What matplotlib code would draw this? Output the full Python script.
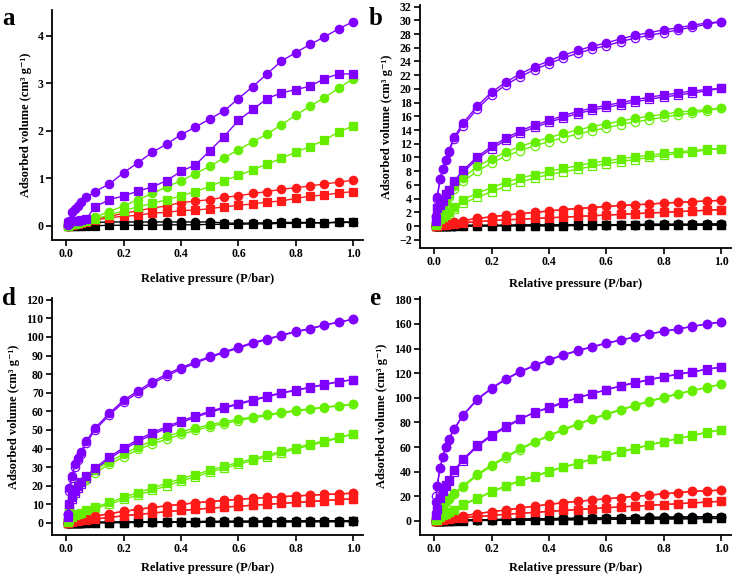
import matplotlib
matplotlib.use("Agg")
import matplotlib.pyplot as plt
import numpy as np

plt.rcParams['font.family'] = ['Liberation Serif', 'DejaVu Serif']
plt.rcParams['font.weight'] = 'bold'

# Relative pressure points (P/bar)
P = [0.005, 0.01, 0.02, 0.03, 0.04, 0.05, 0.07, 0.10, 0.15, 0.20, 0.25, 0.30, 0.35,
     0.40, 0.45, 0.50, 0.55, 0.60, 0.65, 0.70, 0.75, 0.80, 0.85, 0.90, 0.95, 1.00]

# Panel a
A_PUR_C = [0.02, 0.10, 0.28, 0.35, 0.42, 0.50, 0.60, 0.72, 0.88, 1.12, 1.33, 1.55, 1.72,
           1.92, 2.08, 2.25, 2.42, 2.68, 2.93, 3.20, 3.47, 3.65, 3.82, 3.98, 4.15, 4.30]
A_PUR_S = [0.05, 0.08, 0.10, 0.10, 0.11, 0.12, 0.15, 0.40, 0.55, 0.63, 0.73, 0.82, 0.95,
           1.15, 1.28, 1.58, 1.88, 2.22, 2.45, 2.68, 2.80, 2.87, 2.94, 3.10, 3.20, 3.20]
A_GRN_C = [0.00, 0.02, 0.04, 0.06, 0.08, 0.10, 0.13, 0.18, 0.30, 0.42, 0.55, 0.68, 0.82,
           0.95, 1.10, 1.25, 1.43, 1.60, 1.77, 1.93, 2.13, 2.33, 2.52, 2.70, 2.90, 3.10]
A_GRN_S = [0.00, 0.01, 0.03, 0.04, 0.06, 0.07, 0.10, 0.15, 0.22, 0.32, 0.40, 0.47, 0.55,
           0.63, 0.72, 0.83, 0.95, 1.06, 1.18, 1.30, 1.42, 1.55, 1.67, 1.80, 1.98, 2.10]
A_RED_C = [0.00, 0.01, 0.03, 0.04, 0.05, 0.07, 0.10, 0.15, 0.20, 0.26, 0.32, 0.37, 0.42,
           0.49, 0.52, 0.55, 0.60, 0.63, 0.68, 0.72, 0.77, 0.80, 0.84, 0.88, 0.92, 0.96]
A_RED_S = [0.00, 0.01, 0.02, 0.03, 0.04, 0.05, 0.08, 0.12, 0.17, 0.20, 0.22, 0.27, 0.28,
           0.32, 0.33, 0.36, 0.40, 0.43, 0.46, 0.50, 0.52, 0.58, 0.62, 0.65, 0.69, 0.72]
A_BLK_C = [0.00, 0.01, 0.02, 0.03, 0.04, 0.05, 0.06, 0.07, 0.08, 0.08, 0.08, 0.08, 0.08,
           0.08, 0.08, 0.08, 0.06, 0.05, 0.06, 0.06, 0.07, 0.07, 0.07, 0.06, 0.08, 0.08]
A_BLK_S = [0.00, 0.00, 0.00, 0.00, 0.00, 0.00, 0.00, 0.00, 0.01, 0.01, 0.01, 0.01, 0.02,
           0.02, 0.02, 0.03, 0.03, 0.03, 0.04, 0.04, 0.05, 0.05, 0.06, 0.06, 0.07, 0.07]

# Panel b (adsorption / desorption)
B_PUR_C_ADS = [1.5, 4.2, 6.8, 8.3, 9.7, 11.0, 13.0, 15.0, 17.5, 19.5, 21.0, 22.2, 23.2,
               24.1, 24.9, 25.6, 26.2, 26.7, 27.3, 27.8, 28.2, 28.6, 28.9, 29.3, 29.6, 29.8]
B_PUR_C_DES = [1.5, 4.0, 6.8, 8.3, 9.7, 10.8, 12.7, 14.6, 17.1, 19.1, 20.6, 21.8, 22.8,
               23.7, 24.5, 25.2, 25.8, 26.3, 26.9, 27.4, 27.8, 28.2, 28.6, 29.0, 29.4, 29.8]
B_PUR_S_ADS = [0.8, 2.6, 3.0, 3.7, 4.7, 5.3, 6.6, 8.1, 10.1, 11.6, 12.8, 13.9, 14.7,
               15.4, 16.1, 16.7, 17.2, 17.6, 18.0, 18.4, 18.8, 19.1, 19.4, 19.7, 19.9, 20.1]
B_PUR_S_DES = [0.8, 2.6, 3.0, 3.7, 4.6, 5.2, 6.4, 7.8, 9.8, 11.3, 12.5, 13.6, 14.4,
               15.1, 15.8, 16.4, 16.9, 17.3, 17.7, 18.1, 18.5, 18.8, 19.1, 19.4, 19.7, 20.1]
B_GRN_C_ADS = [0.3, 0.8, 1.5, 2.5, 3.5, 4.5, 5.8, 7.0, 8.7, 9.8, 10.8, 11.6, 12.3,
               12.9, 13.5, 14.0, 14.5, 14.9, 15.3, 15.7, 16.0, 16.3, 16.6, 16.8, 17.0, 17.2]
B_GRN_C_DES = [0.3, 0.8, 1.4, 2.3, 3.2, 4.2, 5.4, 6.5, 8.0, 9.2, 10.2, 11.0, 11.7,
               12.3, 12.9, 13.4, 13.9, 14.3, 14.8, 15.2, 15.5, 15.9, 16.2, 16.5, 16.8, 17.2]
B_GRN_S_ADS = [0.2, 0.5, 1.0, 1.3, 1.6, 2.0, 2.8, 3.8, 4.8, 5.6, 6.4, 7.0, 7.5,
               8.0, 8.4, 8.8, 9.2, 9.5, 9.8, 10.1, 10.3, 10.6, 10.8, 11.0, 11.2, 11.3]
B_GRN_S_DES = [0.2, 0.5, 0.9, 1.2, 1.5, 1.8, 2.5, 3.3, 4.2, 5.0, 5.8, 6.4, 7.0,
               7.5, 7.9, 8.3, 8.7, 9.1, 9.4, 9.7, 10.0, 10.3, 10.6, 10.8, 11.1, 11.3]
B_RED_C = [0.0, 0.1, 0.2, 0.3, 0.4, 0.5, 0.6, 0.8, 1.1, 1.35, 1.6, 1.8, 2.0,
           2.2, 2.4, 2.55, 2.7, 2.85, 3.0, 3.1, 3.2, 3.35, 3.45, 3.55, 3.65, 3.75]
B_RED_S = [0.0, 0.05, 0.1, 0.15, 0.2, 0.25, 0.35, 0.5, 0.6, 0.8, 0.9, 1.0, 1.1,
           1.2, 1.3, 1.4, 1.5, 1.6, 1.7, 1.8, 1.9, 2.0, 2.1, 2.2, 2.3, 2.4]
B_BLK_C = [0.0, 0.0, 0.0, 0.0, 0.05, 0.05, 0.05, 0.1, 0.1, 0.1, 0.1, 0.15, 0.15,
           0.15, 0.2, 0.2, 0.2, 0.2, 0.2, 0.2, 0.25, 0.25, 0.25, 0.25, 0.3, 0.3]
B_BLK_S = [0.0, 0.0, 0.0, 0.0, 0.0, 0.0, 0.0, 0.0, 0.0, 0.05, 0.05, 0.05, 0.05,
           0.05, 0.05, 0.1, 0.1, 0.1, 0.1, 0.1, 0.1, 0.1, 0.15, 0.15, 0.15, 0.15]

# Panel d
D_PUR_C_ADS = [5, 19, 25, 31.5, 35, 38, 44, 51, 59, 66, 71, 76, 80,
               83.5, 86.5, 89.5, 92, 94.5, 97, 99, 101, 103, 104.5, 106.5, 108, 109.5]
D_PUR_C_DES = [5, 17, 24, 30, 34, 37, 43, 50, 58, 65, 70, 75, 79,
               82.7, 85.8, 89, 91.5, 94, 96.5, 98.6, 100.7, 102.7, 104.3, 106.3, 107.9, 109.5]
D_PUR_S_ADS = [3, 10, 14, 17, 20, 22, 25, 29.5, 35.5, 40.5, 44.8, 48.5, 51.8,
               54.8, 57.5, 60, 62.2, 64.2, 66.2, 68.2, 70, 71.5, 73, 74.5, 76, 77]
D_PUR_S_DES = [3, 9, 13, 16, 19, 21, 24, 28.5, 34.5, 39.5, 43.8, 47.5, 50.9,
               54, 56.8, 59.4, 61.7, 63.8, 65.8, 67.8, 69.7, 71.2, 72.8, 74.3, 75.9, 77]
D_GRN_C_ADS = [2, 8, 14, 18, 20.5, 22, 24, 28.5, 33, 37, 41, 44, 46.5,
               49, 51, 52.8, 54.3, 55.8, 57, 58.3, 59.4, 60.5, 61.4, 62.3, 63.1, 63.8]
D_GRN_C_DES = [2, 7, 13, 17, 19.5, 21, 23, 27, 31.5, 35.5, 39.5, 42.5, 45,
               47.6, 49.8, 51.8, 53.4, 55, 56.4, 57.8, 59, 60.1, 61.1, 62, 62.9, 63.8]
D_GRN_S_ADS = [0.5, 1.5, 3, 4, 4.8, 5.5, 7, 8.5, 11, 13.8, 16.3, 18.8, 21.3,
               23.8, 26, 28.3, 30.5, 32.5, 34.5, 36.5, 38.5, 40.5, 42.3, 44.2, 46, 47.8]
D_GRN_S_DES = [0.5, 1.3, 2.7, 3.6, 4.3, 5, 6.3, 7.8, 10, 12.6, 15, 17.5, 20,
               22.5, 24.8, 27.2, 29.4, 31.5, 33.6, 35.6, 37.7, 39.7, 41.7, 43.6, 45.6, 47.8]
D_RED_C = [0, 0.5, 1, 1.5, 2, 2.3, 2.8, 3.5, 5, 6.2, 7.3, 8.3, 9.2,
           10, 10.8, 11.5, 12.1, 12.7, 13.2, 13.7, 14.1, 14.5, 14.9, 15.3, 15.6, 16]
D_RED_S = [0, 0.3, 0.6, 0.9, 1.2, 1.4, 1.7, 2, 3, 3.8, 4.6, 5.3, 6,
           6.7, 7.3, 7.9, 8.5, 9, 9.5, 10, 10.5, 11, 11.5, 12, 12.5, 13]
D_BLK_C = [0, 0, 0.1, 0.1, 0.2, 0.2, 0.3, 0.3, 0.4, 0.5, 0.5, 0.6, 0.6,
           0.7, 0.7, 0.8, 0.8, 0.9, 0.9, 1.0, 1.0, 1.0, 1.1, 1.1, 1.2, 1.2]
D_BLK_S = [0, 0, 0, 0, 0.1, 0.1, 0.1, 0.1, 0.2, 0.2, 0.3, 0.3, 0.3,
           0.4, 0.4, 0.4, 0.5, 0.5, 0.5, 0.6, 0.6, 0.6, 0.7, 0.7, 0.7, 0.8]

# Panel e
E_PUR_C_ADS = [15, 28, 43, 52, 60, 66.5, 75, 86, 99, 108, 115.5, 121.5, 126.5,
               131, 135, 138.5, 141.5, 144.5, 147, 149.5, 152, 154, 156, 158, 160, 161.5]
E_PUR_C_DES = [20, 28, 43, 52, 60, 66, 74.5, 85.5, 98.5, 107.5, 115, 121, 126,
               130.5, 134.6, 138.1, 141.2, 144.2, 146.8, 149.3, 151.8, 153.9, 155.9, 157.9, 159.9, 161.5]
E_PUR_S_ADS = [5, 10, 19, 24, 29, 33.5, 41, 50, 61.5, 70, 77, 83, 88,
               92.5, 96.5, 100, 103.5, 106.5, 109.5, 112, 114.5, 117, 119, 121, 123, 125]
E_PUR_S_DES = [5, 10, 18, 23, 28, 32.5, 40, 49, 60.5, 69, 76, 82.5, 88.5,
               91.5, 96, 100, 103.3, 106.5, 109.8, 112.5, 114.8, 117.3, 119.2, 121.2, 123.1, 125]
E_GRN_C_ADS = [1, 2, 5, 12, 16, 19, 22.5, 28.5, 38, 45.5, 52.5, 59, 64.5,
               69.5, 74.5, 79, 83, 87, 90.5, 94, 97.5, 100.5, 103.5, 106, 108.5, 111]
E_GRN_C_DES = [1, 2, 5, 11, 15, 18, 21.5, 27.5, 37, 44.5, 51.5, 58, 63.8,
               68.8, 73.8, 78.3, 82.4, 86.4, 90, 93.5, 97, 100, 103, 105.7, 108.3, 111]
E_GRN_S_ADS = [0.5, 1, 3, 5, 6, 7, 9, 13.5, 18.5, 24, 28.5, 33, 36.5,
               40.5, 44, 47, 50.5, 53.5, 56.5, 59, 62, 64.5, 67, 69.5, 72, 74]
E_GRN_S_DES = [0.5, 1, 2.7, 4.5, 5.5, 6.5, 8.5, 13, 18, 23.5, 28, 32.5, 36,
               40, 43.5, 46.6, 50, 53, 56, 58.6, 61.6, 64.2, 66.7, 69.3, 71.8, 74]
E_RED_C = [0, 0.5, 1, 1.5, 2, 2.5, 3, 4, 6, 7.5, 9, 10.5, 12,
           13.5, 14.8, 16, 17, 18, 19, 20, 21, 22, 23, 24, 24.5, 25]
E_RED_S = [0, 0.3, 0.6, 0.9, 1.2, 1.5, 2, 2.5, 3.5, 4.5, 5.5, 6.2, 7,
           7.8, 8.5, 9.3, 10, 10.7, 11.4, 12, 12.7, 13.3, 14, 14.6, 15.3, 16]
E_BLK_C = [0, 0.1, 0.2, 0.3, 0.4, 0.5, 0.6, 0.7, 0.9, 1.1, 1.3, 1.5, 1.7,
           1.9, 2.0, 2.2, 2.3, 2.5, 2.6, 2.8, 2.9, 3.0, 3.2, 3.3, 3.4, 3.5]
E_BLK_S = [0, 0, 0.1, 0.1, 0.2, 0.2, 0.3, 0.3, 0.4, 0.5, 0.6, 0.7, 0.8,
           0.9, 1.0, 1.1, 1.2, 1.3, 1.4, 1.5, 1.6, 1.7, 1.8, 1.9, 2.0, 2.1]

PURPLE = '#8000ff'
GREEN = '#66ee00'
RED = '#ff1a1a'
BLACK = '#000000'


def draw_panel(ax, series, ylim, yticks, show_des=True, xpad=8):
    for ads, des, color, marker in series:
        if show_des:
            ax.plot(P, des, color=color, marker=marker, ms=6, lw=1.0,
                    mfc='white', mec=color, mew=0.9, zorder=2)
        ax.plot(P, ads, color=color, marker=marker, ms=6, lw=1.0,
                mfc=color, mec=color, mew=0.9, zorder=3)
    ax.set_xlim(-0.05, 1.035)
    ax.set_ylim(*ylim)
    ax.set_xticks(np.arange(0, 1.01, 0.2))
    ax.set_xticklabels([f"{t:.1f}" for t in np.arange(0, 1.01, 0.2)])
    ax.set_yticks(yticks)
    for s in ['top', 'right']:
        ax.spines[s].set_visible(False)
    for s in ['left', 'bottom']:
        ax.spines[s].set_linewidth(1.3)
    ax.tick_params(direction='out', length=4, width=1.2, labelsize=8.5, pad=2)
    for lab in ax.get_xticklabels() + ax.get_yticklabels():
        lab.set_fontweight('bold')
    ax.set_xlabel('Relative pressure (P/bar)', fontsize=9, fontweight='bold', labelpad=xpad)
    ax.set_ylabel('Adsorbed volume (cm³ g⁻¹)', fontsize=9, fontweight='bold', labelpad=4)


fig = plt.figure(figsize=(7.38, 5.79), dpi=100)

ax_a = fig.add_axes([0.0705, 0.5855, 0.4215, 0.3975])
ax_b = fig.add_axes([0.569, 0.5717, 0.4215, 0.4193])
ax_d = fig.add_axes([0.0705, 0.076, 0.4215, 0.4095])
ax_e = fig.add_axes([0.569, 0.076, 0.4215, 0.4113])

draw_panel(ax_a, [(A_BLK_C, A_BLK_C, BLACK, 'o'), (A_BLK_S, A_BLK_S, BLACK, 's'),
                  (A_RED_S, A_RED_S, RED, 's'), (A_RED_C, A_RED_C, RED, 'o'),
                  (A_GRN_S, A_GRN_S, GREEN, 's'), (A_GRN_C, A_GRN_C, GREEN, 'o'),
                  (A_PUR_S, A_PUR_S, PURPLE, 's'), (A_PUR_C, A_PUR_C, PURPLE, 'o')],
           (-0.3, 4.55), [0, 1, 2, 3, 4], show_des=False, xpad=9)
draw_panel(ax_b, [(B_BLK_C, B_BLK_C, BLACK, 'o'), (B_BLK_S, B_BLK_S, BLACK, 's'),
                  (B_RED_S, B_RED_S, RED, 's'), (B_RED_C, B_RED_C, RED, 'o'),
                  (B_GRN_S_ADS, B_GRN_S_DES, GREEN, 's'), (B_GRN_C_ADS, B_GRN_C_DES, GREEN, 'o'),
                  (B_PUR_S_ADS, B_PUR_S_DES, PURPLE, 's'), (B_PUR_C_ADS, B_PUR_C_DES, PURPLE, 'o')],
           (-3.2, 32.2), np.arange(-2, 33, 2), xpad=7)
draw_panel(ax_d, [(D_BLK_C, D_BLK_C, BLACK, 'o'), (D_BLK_S, D_BLK_S, BLACK, 's'),
                  (D_RED_S, D_RED_S, RED, 's'), (D_RED_C, D_RED_C, RED, 'o'),
                  (D_GRN_S_ADS, D_GRN_S_DES, GREEN, 's'), (D_GRN_C_ADS, D_GRN_C_DES, GREEN, 'o'),
                  (D_PUR_S_ADS, D_PUR_S_DES, PURPLE, 's'), (D_PUR_C_ADS, D_PUR_C_DES, PURPLE, 'o')],
           (-6.5, 121), np.arange(0, 121, 10), xpad=5)
draw_panel(ax_e, [(E_BLK_C, E_BLK_C, BLACK, 'o'), (E_BLK_S, E_BLK_S, BLACK, 's'),
                  (E_RED_S, E_RED_S, RED, 's'), (E_RED_C, E_RED_C, RED, 'o'),
                  (E_GRN_S_ADS, E_GRN_S_DES, GREEN, 's'), (E_GRN_C_ADS, E_GRN_C_DES, GREEN, 'o'),
                  (E_PUR_S_ADS, E_PUR_S_DES, PURPLE, 's'), (E_PUR_C_ADS, E_PUR_C_DES, PURPLE, 'o')],
           (-11.4, 182), np.arange(0, 181, 20), xpad=5)

# panel letters
for letter, x, y in [('a', 0.003, 0.988), ('b', 0.500, 0.988), ('d', 0.003, 0.505), ('e', 0.500, 0.505)]:
    fig.text(x, y, letter, fontsize=18, fontweight='bold', ha='left', va='top')

fig.savefig('out.png', dpi=100)
